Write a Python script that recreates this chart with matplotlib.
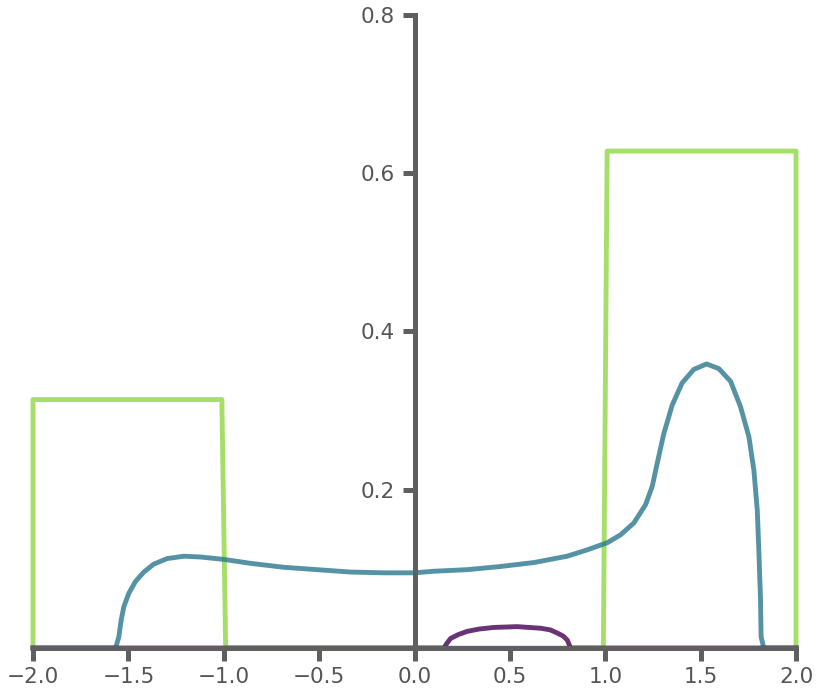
import numpy as np
import matplotlib.pyplot as plt

# green step profile
green_x = [-2.0, -2.0, -1.01, -0.99, 0.99, 1.01, 2.0, 2.0]
green_y = [0.0, 0.314, 0.314, 0.0, 0.0, 0.628, 0.628, 0.0]

# teal curve
teal_x = [-2.0, -1.567, -1.550, -1.538, -1.524, -1.498, -1.463, -1.419, -1.367, -1.297,
          -1.209, -1.122, -1.0, -0.860, -0.685, -0.510, -0.336, -0.161, 0.0, 0.101,
          0.276, 0.451, 0.626, 0.800, 0.905, 1.010, 1.080, 1.150, 1.211, 1.246,
          1.272, 1.307, 1.351, 1.403, 1.464, 1.531, 1.596, 1.657, 1.709, 1.753,
          1.779, 1.797, 1.805, 1.814, 1.817, 1.831, 2.0]
teal_y = [0.0, 0.0, 0.014, 0.035, 0.052, 0.069, 0.084, 0.096, 0.106, 0.113,
          0.116, 0.115, 0.112, 0.107, 0.102, 0.099, 0.096, 0.095, 0.095, 0.097,
          0.099, 0.103, 0.108, 0.116, 0.124, 0.133, 0.143, 0.158, 0.181, 0.204,
          0.233, 0.271, 0.307, 0.335, 0.352, 0.359, 0.353, 0.337, 0.305, 0.267,
          0.225, 0.174, 0.124, 0.061, 0.014, 0.0, 0.0]

# purple curve
purple_x = [-2.0, 0.154, 0.170, 0.189, 0.230, 0.276, 0.340, 0.416, 0.538, 0.661,
            0.710, 0.748, 0.780, 0.801, 0.818, 2.0]
purple_y = [0.0, 0.0, 0.006, 0.012, 0.017, 0.021, 0.024, 0.026, 0.027, 0.025,
            0.023, 0.019, 0.015, 0.010, 0.0, 0.0]

fig = plt.figure(figsize=(8.23, 6.97), dpi=100)
ax = fig.add_axes([0.0401, 0.0703, 0.9271, 0.9082])

ax.plot(green_x, green_y, color='#8fd744', lw=3.5, alpha=0.8, clip_on=False,
        solid_joinstyle='round')
ax.plot(teal_x, teal_y, color='#2a788e', lw=3.5, alpha=0.8, clip_on=False,
        solid_joinstyle='round')
ax.plot(purple_x, purple_y, color='#440154', lw=3.5, alpha=0.8, clip_on=False,
        solid_joinstyle='round')

ax.set_xlim(-2, 2)
ax.set_ylim(0, 0.8)
ax.set_xticks(np.arange(-2, 2.01, 0.5))
ax.set_yticks([0.2, 0.4, 0.6, 0.8])

ax.spines['left'].set_position(('data', 0))
ax.spines['top'].set_visible(False)
ax.spines['right'].set_visible(False)
for s in ['left', 'bottom']:
    ax.spines[s].set_color('#5f5f5f')
    ax.spines[s].set_linewidth(3.6)
ax.tick_params(colors='#5f5f5f', labelcolor='#555555', length=9, width=3.6,
               labelsize=15.5, pad=5)

fig.savefig('out.png', dpi=100)
